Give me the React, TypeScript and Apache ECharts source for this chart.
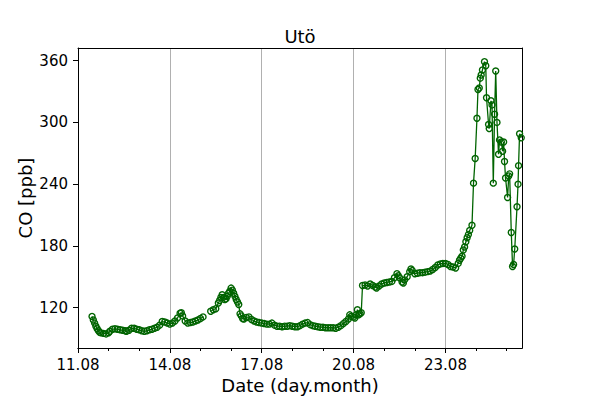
import React, { useEffect, useRef } from "react";
import * as echarts from "echarts";

// Time in hours after 11.08 00:00, CO in ppb
const startDay = 11;
const monthLabel = "08";

const segmentA: [number, number][] = [
  [11, 111.5], [12, 108], [13, 105], [14, 102], [15, 99.5], [16, 97.5], [17, 96], [18, 95.5],
  [20, 95], [22, 94.5], [24, 95.5], [25, 97], [27, 99], [29, 99.5], [31, 99], [33, 98.5],
  [35, 98], [37, 97.5], [38, 97], [40, 98], [42, 100], [44, 100], [46, 99], [48, 98.5],
  [50, 97.5], [52, 97], [54, 97.5], [56, 98.5], [58, 99], [60, 100], [62, 101], [64, 103],
  [66, 106.5], [68, 106], [70, 105], [72, 104], [74, 105], [76, 107], [78, 110], [80, 114.5],
  [81, 115], [82, 112], [84, 107], [86, 105], [88, 105.5], [90, 106], [92, 107], [94, 108],
  [96, 109.5], [98, 111],
];

const gapHour = 101;

const segmentB: [number, number][] = [
  [104, 116.5], [106, 118], [108, 119], [110, 124.5], [111, 127], [112, 130], [113, 132.5],
  [114, 130], [115, 128], [116, 128.5], [117, 131], [118, 134], [119, 136], [120, 139],
  [121, 137], [122, 134], [123, 131], [124, 128], [125, 125.5], [126, 123], [127, 114],
  [128, 112], [129, 109.5], [130, 109], [132, 110.5], [134, 111], [136, 108.5], [138, 107],
  [140, 106], [142, 105.5], [144, 105], [146, 104.5], [148, 104], [150, 104], [152, 105],
  [154, 103], [156, 102], [158, 102], [160, 101.5], [162, 102], [164, 102], [166, 102.5],
  [168, 102], [170, 101.5], [172, 101.5], [174, 102.5], [176, 104], [178, 105], [180, 105.5],
  [182, 103.5], [184, 102.5], [186, 102], [188, 101.5], [190, 101], [192, 101], [194, 100.5],
  [196, 100.5], [198, 100.5], [200, 100.5], [202, 100], [204, 101], [206, 102.5], [208, 104.5],
  [210, 106.5], [212, 109], [213, 113], [214, 111.5], [216, 111], [217, 110], [218, 113],
  [219, 118], [220, 113], [221, 114], [222, 115],
];

const segmentC: [number, number][] = [
  [223, 141.5], [225, 142], [227, 141], [229, 143], [231, 141.5], [233, 140], [234, 139],
  [236, 141], [238, 143], [240, 144], [242, 144.5], [244, 145], [246, 145.5], [248, 149],
  [250, 153], [251, 151], [252, 149], [254, 145], [255, 144], [256, 147], [258, 150],
  [260, 155], [261, 157.5], [262, 156], [264, 153], [266, 153.5], [268, 154], [270, 154],
  [272, 154.5], [274, 155], [276, 155.5], [278, 157], [280, 159], [282, 161.5], [284, 162.5],
  [286, 163], [288, 163], [290, 162], [292, 160], [294, 159.5], [296, 158.5], [298, 163],
  [299, 166], [300, 168], [301, 170], [302, 176], [303, 179], [304, 184], [305, 188],
  [306, 191], [307, 195], [308.8, 200],
];

const peak: [number, number][] = [
  [310, 241], [311.3, 265], [312.7, 304], [313.5, 332], [314.5, 333.5], [315.3, 343],
  [316, 346], [317, 351], [318.6, 359], [319.6, 355], [320.2, 324], [321.8, 298],
  [322.3, 294], [323.7, 321], [324.5, 317], [325.5, 241], [326.5, 308], [327.4, 350],
  [328.4, 300], [329.6, 269], [330.4, 283], [331.8, 281], [332.8, 272], [333.6, 281],
  [334.3, 262], [335.1, 246], [336.7, 227], [337.6, 248], [338.3, 250], [339.6, 193],
  [340.6, 160], [341.4, 162], [342.3, 177], [344.1, 218], [344.9, 240], [345.3, 258],
  [346.1, 289], [347.4, 285],
];

const xMin = 0;
const xMax = 348;
const xMajorTicks = [0, 72, 144, 216, 288];
const xMinorTicks = [24, 48, 96, 120, 168, 192, 240, 264, 312, 336];
const yMin = 80.8;
const yMax = 372.3;
const yTicks = [120, 180, 240, 300, 360];

const FONT = "DejaVu Sans";
const GREEN = "#006400";

export default function App() {
  const ref = useRef<HTMLDivElement>(null);

  useEffect(() => {
    document.body.style.margin = "0";
    if (!ref.current) return;
    const chart = echarts.init(ref.current, undefined, { renderer: "svg" });

    const data: any[] = [
      ...segmentA,
      [gapHour, "-"],
      ...segmentB,
      ...segmentC,
      ...peak,
    ];

    const frameAxis = {
      min: xMin,
      max: xMax,
      axisLine: { show: true, lineStyle: { color: "#000", width: 1 } },
      axisTick: { show: false },
      axisLabel: { show: false },
      splitLine: { show: false },
    };

    chart.setOption({
      animation: false,
      backgroundColor: "#fff",
      title: {
        text: "Utö",
        left: "center",
        top: 22,
        textStyle: { fontFamily: FONT, fontSize: 18, fontWeight: "normal", color: "#000" },
      },
      grid: { left: 78, right: 78, top: 48, bottom: 52 },
      xAxis: [
        {
          type: "value",
          position: "bottom",
          min: xMin,
          max: xMax,
          interval: 72,
          name: "Date (day.month)",
          nameLocation: "middle",
          nameGap: 28,
          nameMoveOverlap: false,
          nameTextStyle: { fontFamily: FONT, fontSize: 18, color: "#000" },
          axisLine: { show: true, onZero: false, lineStyle: { color: "#000", width: 1 } },
          axisTick: { show: true, customValues: xMajorTicks, length: 5, lineStyle: { color: "#000", width: 1 } },
          axisLabel: {
            customValues: xMajorTicks,
            margin: 9,
            fontFamily: FONT,
            fontSize: 15,
            color: "#000",
            formatter: (v: number) => `${startDay + Math.round(v / 24)}.${monthLabel}`,
          },
          splitLine: { show: true, lineStyle: { color: "#b0b0b0", width: 1 } },
        },
        { type: "value", position: "top", ...frameAxis },
        {
          type: "value",
          position: "bottom",
          min: xMin,
          max: xMax,
          axisLine: { show: true, onZero: false, lineStyle: { color: "#000", width: 1 } },
          axisTick: { show: true, customValues: xMinorTicks, length: 3, lineStyle: { color: "#000", width: 1 } },
          axisLabel: { show: false },
          splitLine: { show: false },
        },
      ],
      yAxis: [
        {
          type: "value",
          position: "left",
          min: yMin,
          max: yMax,
          name: "CO [ppb]",
          nameLocation: "middle",
          nameGap: 44,
          nameMoveOverlap: false,
          nameTextStyle: { fontFamily: FONT, fontSize: 18, color: "#000" },
          axisLine: { show: true, onZero: false, lineStyle: { color: "#000", width: 1 } },
          axisTick: { show: true, customValues: yTicks, length: 5, lineStyle: { color: "#000", width: 1 } },
          axisLabel: { customValues: yTicks, margin: 10, fontFamily: FONT, fontSize: 15, color: "#000" },
          splitLine: { show: false },
        },
        {
          type: "value",
          position: "right",
          min: yMin,
          max: yMax,
          axisLine: { show: true, onZero: false, lineStyle: { color: "#000", width: 1 } },
          axisTick: { show: false },
          axisLabel: { show: false },
          splitLine: { show: false },
        },
      ],
      series: [
        {
          type: "line",
          xAxisIndex: 0,
          yAxisIndex: 0,
          data,
          symbol: "circle",
          symbolSize: 6,
          showAllSymbol: true,
          connectNulls: false,
          itemStyle: { color: "rgba(0,0,0,0)", borderColor: GREEN, borderWidth: 1.4 },
          lineStyle: { color: GREEN, width: 1.3 },
          emphasis: { disabled: true },
          silent: true,
        },
      ],
    });

    return () => chart.dispose();
  }, []);

  return <div ref={ref} style={{ width: 600, height: 400 }} />;
}
